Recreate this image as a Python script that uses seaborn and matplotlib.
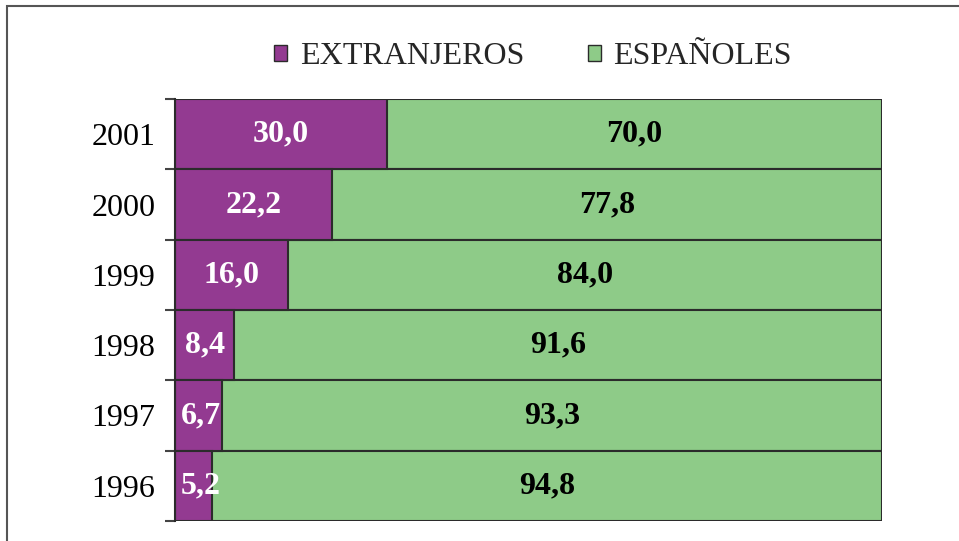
import matplotlib
matplotlib.use('Agg')
import matplotlib.pyplot as plt
import matplotlib.patches as mpatches
import seaborn as sns
import pandas as pd

# Data (%)
years = ['2001', '2000', '1999', '1998', '1997', '1996']
extranjeros = [30.0, 22.2, 16.0, 8.4, 6.7, 5.2]
espanoles = [70.0, 77.8, 84.0, 91.6, 93.3, 94.8]

purple = '#933A91'
green = '#8ECB88'
edge = '#2b2b2b'

sns.set_style('white')
plt.rcParams['font.family'] = ['Liberation Serif', 'DejaVu Serif']

df = pd.DataFrame({'year': years, 'ext': extranjeros, 'esp': espanoles})
df['total'] = df['ext'] + df['esp']

fig = plt.figure(figsize=(9.59, 5.41), dpi=100)
ax = fig.add_axes([175 / 959, 1 - 521 / 541, (882 - 175) / 959, (521 - 99) / 541])

# stacked bars: total (green) then foreigners (purple) over it
sns.barplot(data=df, y='year', x='total', order=years, color=green, width=1.0,
            edgecolor=edge, linewidth=1.5, saturation=1, ax=ax)
sns.barplot(data=df, y='year', x='ext', order=years, color=purple, width=1.0,
            edgecolor=edge, linewidth=1.5, saturation=1, ax=ax)

for i, (e, s) in enumerate(zip(extranjeros, espanoles)):
    ax.text(max(e / 2, 3.6), i, f'{e:.1f}'.replace('.', ','), ha='center', va='center',
            color='white', fontsize=23, fontweight='bold')
    ax.text(e + s / 2, i, f'{s:.1f}'.replace('.', ','), ha='center', va='center',
            color='black', fontsize=23, fontweight='bold')

ax.set_xlim(0, 100)
ax.set_ylim(5.5, -0.5)
ax.set_xlabel('')
ax.set_ylabel('')
ax.set_xticks([])
for side in ['top', 'right', 'bottom']:
    ax.spines[side].set_visible(False)
ax.spines['left'].set_color(edge)
ax.spines['left'].set_linewidth(1.5)

ax.set_yticks(range(len(years)))
ax.set_yticklabels(years, fontsize=23)
ax.set_yticks([i - 0.5 for i in range(len(years) + 1)], minor=True)
ax.tick_params(axis='y', which='major', left=True, length=0, pad=14, colors='black')
ax.tick_params(axis='y', which='minor', left=True, length=7, width=1.5, color='#444444')

handles = [mpatches.Patch(facecolor=purple, edgecolor=edge, label='EXTRANJEROS'),
           mpatches.Patch(facecolor=green, edgecolor=edge, label='ESPAÑOLES')]
fig.legend(handles=handles, loc='center', bbox_to_anchor=(533 / 959, 1 - 57 / 541), ncol=2,
           frameon=False, fontsize=23, handlelength=0.4, handleheight=0.4,
           handletextpad=0.4, columnspacing=2.0)

# outer frame (left and top visible, cropped at right/bottom)
fig.patches.append(mpatches.Rectangle((7 / 959, -0.2), 1.2, 1.2 - 6 / 541,
                                      transform=fig.transFigure, fill=False,
                                      edgecolor='#555555', linewidth=1.5))

fig.savefig('out.png', dpi=100)
